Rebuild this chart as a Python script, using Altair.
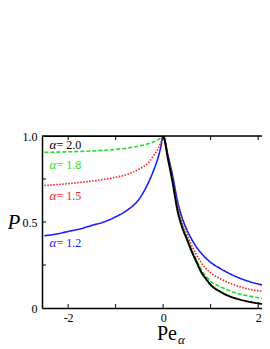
import altair as alt
import pandas as pd

# ---- data ----
x_vals = [-2.5, -2.25, -2.0, -1.75, -1.5, -1.25, -1.0, -0.75, -0.5, -0.4, -0.3, -0.2, -0.1, -0.05, 0.0,
          0.1, 0.2, 0.3, 0.4, 0.5, 0.6, 0.7, 0.8, 0.9, 1.0, 1.2, 1.4, 1.6, 1.8, 2.0, 2.25, 2.5]

p_a20 = [1.0, 1.0, 1.0, 1.0, 1.0, 1.0, 1.0, 1.0, 1.0, 1.0, 1.0, 1.0, 1.0, 1.0, 1.0,
         0.87, 0.73, 0.57, 0.47, 0.40, 0.33, 0.27, 0.21, 0.17, 0.135, 0.095, 0.068, 0.05, 0.037, 0.027, 0.018, 0.012]
p_a18 = [0.905, 0.906, 0.908, 0.91, 0.913, 0.917, 0.922, 0.93, 0.942, 0.948, 0.956, 0.966, 0.98, 0.989, 1.0,
         0.875, 0.74, 0.585, 0.48, 0.41, 0.34, 0.28, 0.225, 0.185, 0.155, 0.125, 0.1, 0.082, 0.07, 0.06, 0.05, 0.043]
p_a15 = [0.712, 0.717, 0.723, 0.73, 0.738, 0.748, 0.76, 0.777, 0.808, 0.825, 0.848, 0.885, 0.93, 0.96, 1.0,
         0.88, 0.75, 0.6, 0.5, 0.43, 0.365, 0.31, 0.265, 0.23, 0.205, 0.17, 0.145, 0.125, 0.11, 0.1, 0.09, 0.082]
p_a12 = [0.42, 0.43, 0.445, 0.46, 0.48, 0.5, 0.53, 0.57, 0.635, 0.68, 0.735, 0.80, 0.88, 0.935, 1.0,
         0.89, 0.77, 0.625, 0.525, 0.455, 0.40, 0.355, 0.32, 0.29, 0.265, 0.23, 0.2, 0.175, 0.155, 0.14, 0.125, 0.112]

series_names = ["1.2", "1.5", "1.8", "2.0"]
series_colors = ["#1a1aff", "#ff1a1a", "#1adf1a", "#000000"]
series_dash = [[1, 0], [1.5, 1.5], [4, 2], [1, 0]]

x_ticks = [-2, -1, 0, 1, 2]
x_labels = [-2, 0, 2]
y_ticks = [0.25, 0.5, 0.75]
y_labels = [0, 0.5, 1.0]

W, H = 228, 172
FONT = "Liberation Serif"

rows = []
for name, vals in zip(series_names, [p_a12, p_a15, p_a18, p_a20]):
    for xv, pv in zip(x_vals, vals):
        rows.append({"x": xv, "P": pv, "series": name})
df = pd.DataFrame(rows)

xscale = alt.Scale(domain=[-2.55, 2.25], nice=False, zero=False)
yscale = alt.Scale(domain=[0, 1], nice=False, zero=False)

base_lines = alt.Chart(df)


def curve(name, width):
    return base_lines.transform_filter(alt.datum.series == name).mark_line(
        clip=True, interpolate="monotone", strokeWidth=width,
        color=series_colors[series_names.index(name)],
        strokeDash=series_dash[series_names.index(name)],
    ).encode(
        x=alt.X("x:Q", scale=xscale,
                axis=alt.Axis(values=x_labels, title=None, ticks=False, labelFont=FONT,
                              labelFontSize=12, labelColor="black", labelPadding=4,
                              domainColor="black", domainWidth=1.5, grid=False,
                              labelExpr="datum.value < 0 ? '-' + format(-datum.value, 'd') : format(datum.value, 'd')")),
        y=alt.Y("P:Q", scale=yscale,
                axis=alt.Axis(values=y_labels, title=None, ticks=False, labelFont=FONT,
                              labelFontSize=12, labelColor="black", labelPadding=5,
                              domainColor="black", domainWidth=1.5, grid=False,
                              labelExpr="datum.value == 0 ? '0' : format(datum.value, '.1f')")),
    )


lines = [curve("1.2", 1.6), curve("1.5", 1.6), curve("1.8", 1.6), curve("2.0", 2.0)]

top_line = alt.Chart(pd.DataFrame({"a": [0]})).mark_rule(color="black", strokeWidth=1.5).encode(
    x=alt.value(0), x2=alt.value(W), y=alt.value(0))

xt = pd.DataFrame({"x": x_ticks})
bottom_ticks = alt.Chart(xt).mark_rule(color="black", strokeWidth=1).encode(
    x=alt.X("x:Q", scale=xscale), y=alt.value(H), y2=alt.value(H - 4))
top_ticks = alt.Chart(xt).mark_rule(color="black", strokeWidth=1).encode(
    x=alt.X("x:Q", scale=xscale), y=alt.value(0), y2=alt.value(4))
yt = pd.DataFrame({"P": y_ticks})
left_ticks = alt.Chart(yt).mark_rule(color="black", strokeWidth=1).encode(
    y=alt.Y("P:Q", scale=yscale), x=alt.value(0), x2=alt.value(4))

one = pd.DataFrame({"a": [0]})


def txt(text, x, y, size, color="black", italic=False, align="left", baseline="middle"):
    return alt.Chart(one).mark_text(
        text=text, font=FONT, fontSize=size, color=color,
        fontStyle="italic" if italic else "normal", align=align, baseline=baseline,
    ).encode(x=alt.value(x), y=alt.value(y))


label_y = {"2.0": 9, "1.8": 29, "1.5": 60, "1.2": 107}
texts = []
for name in ["2.0", "1.8", "1.5", "1.2"]:
    c = series_colors[series_names.index(name)]
    texts.append(txt("α", 7.5, label_y[name], 13, c, italic=True))
    texts.append(txt("= " + name, 14.5, label_y[name], 12, c))

texts.append(txt("P", -28, 93, 21, italic=True, align="center", baseline="alphabetic"))
texts.append(txt("Pe", 115, 204, 20, baseline="alphabetic"))
texts.append(txt("α", 136, 208, 13, italic=True, baseline="alphabetic"))

chart = alt.layer(*lines, top_line, bottom_ticks, top_ticks, left_ticks, *texts).properties(
    width=W, height=H,
    padding={"left": 34, "top": 128, "right": -8, "bottom": 41},
    autosize=alt.AutoSizeParams(type="none"),
).configure_view(stroke=None).configure(background="white")

chart.save("out.html", embed_options={"renderer": "svg", "actions": False})
